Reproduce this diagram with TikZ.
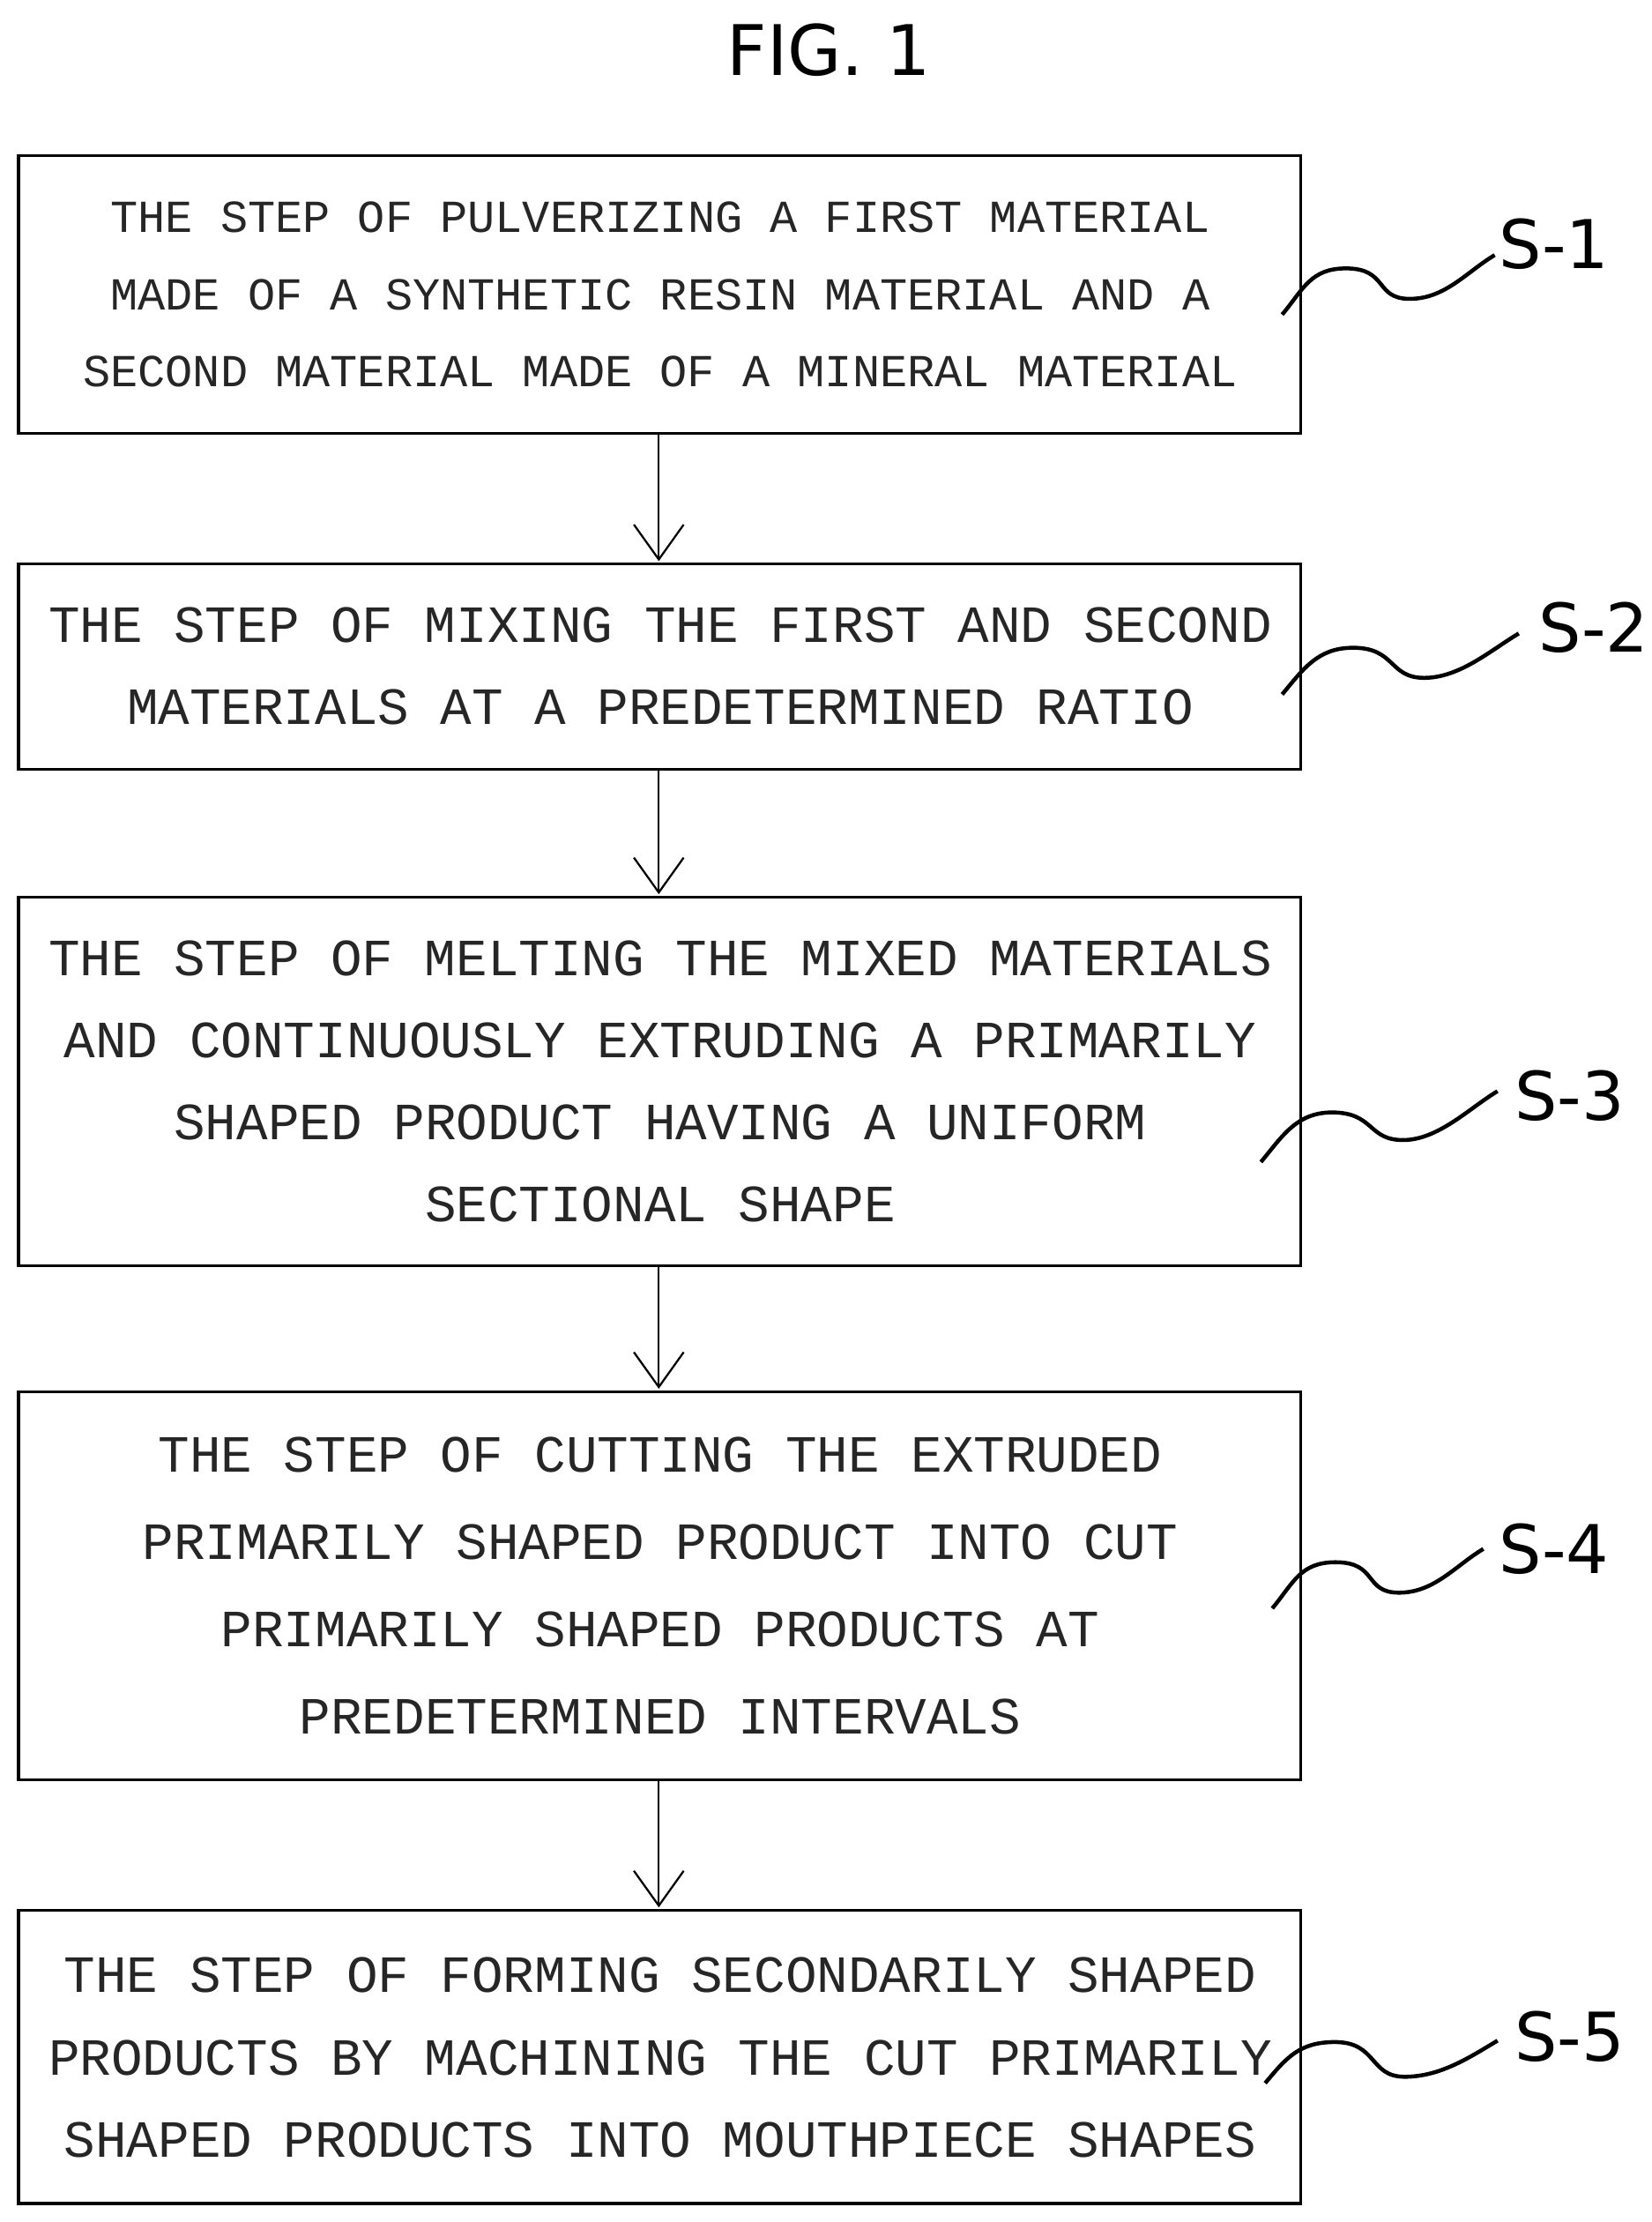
\documentclass[tikz,border=0pt]{standalone}
\usepackage{fontspec}
\setmainfont{Liberation Mono}
\newfontfamily\lab{DejaVu Sans}
\usetikzlibrary{arrows.meta}
\begin{document}
\begin{tikzpicture}[x=0.02cm,y=-0.02cm,
 box/.style={draw,line width=1.2pt},
 txt/.style={align=center,text=black!85,font=\fontsize{21}{33}\selectfont},
 arr/.style={-{Straight Barb[length=14pt,width=20pt,line width=0.8pt]},line width=0.8pt},
 slab/.style={font=\lab\fontsize{27}{30}\selectfont},
 squig/.style={line width=1.6pt}]
\useasboundingbox (0,0) rectangle (1166,1568);
\node[font=\lab\fontsize{28}{30}\selectfont] (title) at (585,35) {FIG. 1};
\draw[box] (13,110) rectangle (918,306);
\draw[box] (13,398) rectangle (918,543);
\draw[box] (13,633) rectangle (918,893);
\draw[box] (13,982) rectangle (918,1256);
\draw[box] (13,1348) rectangle (918,1555);
\node[txt,font=\fontsize{18.4}{31}\selectfont] (b1) at (466,208) {THE STEP OF PULVERIZING A FIRST MATERIAL\\MADE OF A SYNTHETIC RESIN MATERIAL AND A\\SECOND MATERIAL MADE OF A MINERAL MATERIAL};
\node[txt] (b2) at (466,470) {THE STEP OF MIXING THE FIRST AND SECOND\\MATERIALS AT A PREDETERMINED RATIO};
\node[txt] (b3) at (466,763) {THE STEP OF MELTING THE MIXED MATERIALS\\AND CONTINUOUSLY EXTRUDING A PRIMARILY\\SHAPED PRODUCT HAVING A UNIFORM\\SECTIONAL SHAPE};
\node[txt,font=\fontsize{21}{35}\selectfont] (b4) at (466,1119) {THE STEP OF CUTTING THE EXTRUDED\\PRIMARILY SHAPED PRODUCT INTO CUT\\PRIMARILY SHAPED PRODUCTS AT\\PREDETERMINED INTERVALS};
\node[txt] (b5) at (466,1452) {THE STEP OF FORMING SECONDARILY SHAPED\\PRODUCTS BY MACHINING THE CUT PRIMARILY\\SHAPED PRODUCTS INTO MOUTHPIECE SHAPES};
\coordinate (a1) at (465,306); \coordinate (a1e) at (465,396);
\coordinate (a2) at (465,543); \coordinate (a2e) at (465,631);
\coordinate (a3) at (465,893); \coordinate (a3e) at (465,980);
\coordinate (a4) at (465,1256); \coordinate (a4e) at (465,1346);
\draw[arr] (a1)--(a1e); \draw[arr] (a2)--(a2e); \draw[arr] (a3)--(a3e); \draw[arr] (a4)--(a4e);
\node[slab] (s1) at (1097,172) {S-1};
\node[slab] (s2) at (1125,443) {S-2};
\node[slab] (s3) at (1108,773) {S-3};
\node[slab] (s4) at (1097,1093) {S-4};
\node[slab] (s5) at (1108,1437) {S-5};
\foreach \x/\y/\X/\Y in {905/222/1055/180, 905/490/1072/447, 890/820/1057/770, 898/1135/1047/1093, 893/1470/1057/1440}{
 \draw[squig] (\x,\y) .. controls ++(15,-18) and ++(-25,0) .. ({\x+0.3*(\X-\x)},{\y+0.3*(\Y-\y)-20})
  .. controls ++(30,0) and ++(-25,0) .. ({\x+0.6*(\X-\x)},{\y+0.55*(\Y-\y)+12})
  .. controls ++(25,0) and ++(-20,12) .. (\X,\Y);}
\end{tikzpicture}
\end{document}
